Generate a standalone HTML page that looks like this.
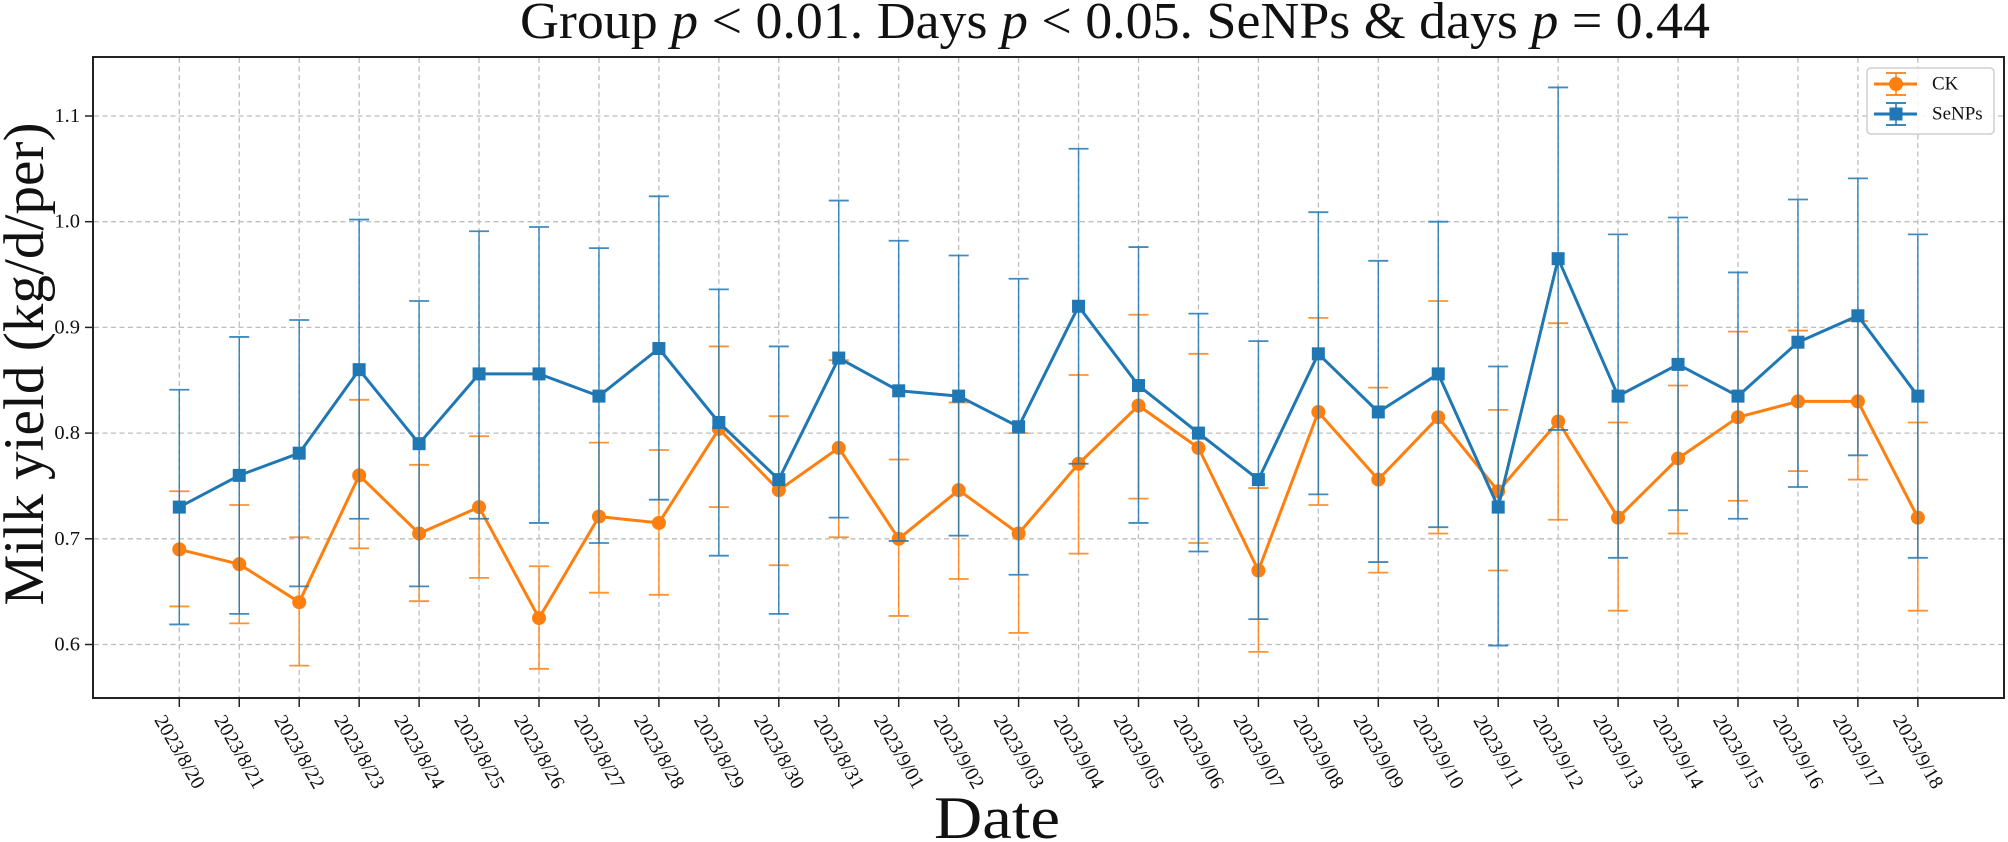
<!DOCTYPE html>
<html>
<head>
<meta charset="utf-8">
<style>
html,body{margin:0;padding:0;background:#fff;}
svg{display:block;}
text{font-family:"Liberation Serif","Times New Roman",serif;fill:#111;}
</style>
</head>
<body>
<svg id="chart" width="2008" height="842" viewBox="0 0 2008 842" xmlns="http://www.w3.org/2000/svg">
<rect x="0" y="0" width="2008" height="842" fill="#fff"/>
<g id="grid" stroke="#bdbdbd" stroke-width="1.3" stroke-dasharray="5,3.5" fill="none"></g>
<g id="ck-err" stroke="#ff7f0e" stroke-width="1.5" fill="none" opacity="0.85"></g>
<g id="ck-line"></g>
<g id="se-err" stroke="#1f77b4" stroke-width="1.5" fill="none" opacity="0.85"></g>
<g id="se-line"></g>
<rect x="93" y="57" width="1911" height="641" fill="none" stroke="#222" stroke-width="2"/>
<g id="ticks" stroke="#222" stroke-width="1.5"></g>
<g id="ylabels" font-size="20.5"></g>
<g id="xlabels" font-size="20"></g>

<!-- Title -->
<text x="520" y="38" font-size="52" textLength="1190" lengthAdjust="spacingAndGlyphs">Group <tspan font-style="italic">p</tspan> &lt; 0.01. Days <tspan font-style="italic">p</tspan> &lt; 0.05. SeNPs &amp; days <tspan font-style="italic">p</tspan> = 0.44</text>

<!-- Axis labels -->
<text transform="translate(43,364) rotate(-90)" text-anchor="middle" font-size="57" textLength="483" lengthAdjust="spacingAndGlyphs">Milk yield (kg/d/per)</text>
<text x="934" y="838" font-size="60" textLength="126" lengthAdjust="spacingAndGlyphs">Date</text>

<!-- Legend -->
<rect x="1867" y="68" width="127" height="66" rx="4" ry="4" fill="#fff" fill-opacity="0.85" stroke="#cfcfcf" stroke-width="1.5"/>
<g stroke="#ff7f0e">
  <line x1="1874" y1="84" x2="1917" y2="84" stroke-width="3"/>
  <line x1="1896" y1="73" x2="1896" y2="95" stroke-width="1.5"/>
  <line x1="1886" y1="73" x2="1906" y2="73" stroke-width="1.8"/>
  <line x1="1886" y1="95" x2="1906" y2="95" stroke-width="1.8"/>
  <circle cx="1896" cy="84" r="7" fill="#ff7f0e" stroke="none"/>
</g>
<g stroke="#1f77b4">
  <line x1="1874" y1="114" x2="1917" y2="114" stroke-width="3"/>
  <line x1="1896" y1="103" x2="1896" y2="125" stroke-width="1.5"/>
  <line x1="1886" y1="103" x2="1906" y2="103" stroke-width="1.8"/>
  <line x1="1886" y1="125" x2="1906" y2="125" stroke-width="1.8"/>
  <rect x="1889.5" y="107.5" width="13" height="13" fill="#1f77b4" stroke="none"/>
</g>
<text x="1932" y="84" font-size="19" dominant-baseline="central">CK</text>
<text x="1932" y="114" font-size="19" dominant-baseline="central">SeNPs</text>
</svg>

<script>
(function(){
var NS="http://www.w3.org/2000/svg";
function el(tag,attrs,parent,txt){var e=document.createElementNS(NS,tag);for(var k in attrs)e.setAttribute(k,attrs[k]);if(txt!==undefined)e.textContent=txt;parent.appendChild(e);return e;}
function X(i){return 179.3+59.95*i;}
function Y(v){return 116+(1.1-v)*1057;}
var labels=["2023/8/20","2023/8/21","2023/8/22","2023/8/23","2023/8/24","2023/8/25","2023/8/26","2023/8/27","2023/8/28","2023/8/29","2023/8/30","2023/8/31","2023/9/01","2023/9/02","2023/9/03","2023/9/04","2023/9/05","2023/9/06","2023/9/07","2023/9/08","2023/9/09","2023/9/10","2023/9/11","2023/9/12","2023/9/13","2023/9/14","2023/9/15","2023/9/16","2023/9/17","2023/9/18"];
var se=[[0.730,0.841,0.619],[0.760,0.891,0.629],[0.781,0.907,0.655],[0.860,1.002,0.719],[0.790,0.925,0.655],[0.856,0.991,0.719],[0.856,0.995,0.715],[0.835,0.975,0.696],[0.880,1.024,0.737],[0.810,0.936,0.684],[0.756,0.882,0.629],[0.871,1.020,0.720],[0.840,0.982,0.698],[0.835,0.968,0.703],[0.806,0.946,0.666],[0.920,1.069,0.771],[0.845,0.976,0.715],[0.800,0.913,0.688],[0.756,0.887,0.624],[0.875,1.009,0.742],[0.820,0.963,0.678],[0.856,1.000,0.711],[0.730,0.863,0.599],[0.965,1.127,0.803],[0.835,0.988,0.682],[0.865,1.004,0.727],[0.835,0.952,0.719],[0.886,1.021,0.749],[0.911,1.041,0.779],[0.835,0.988,0.682]];
var ck=[[0.690,0.745,0.636],[0.676,0.732,0.620],[0.640,0.7015,0.580],[0.760,0.8315,0.691],[0.705,0.770,0.641],[0.730,0.797,0.663],[0.625,0.674,0.577],[0.721,0.791,0.649],[0.715,0.784,0.647],[0.804,0.882,0.730],[0.746,0.816,0.675],[0.786,0.869,0.7015],[0.700,0.775,0.627],[0.746,0.829,0.662],[0.705,0.800,0.611],[0.771,0.855,0.686],[0.826,0.912,0.738],[0.786,0.875,0.696],[0.670,0.748,0.593],[0.820,0.909,0.732],[0.756,0.843,0.668],[0.815,0.925,0.705],[0.745,0.822,0.670],[0.811,0.904,0.718],[0.720,0.810,0.632],[0.776,0.845,0.705],[0.815,0.896,0.736],[0.830,0.897,0.764],[0.830,0.906,0.756],[0.720,0.810,0.632]];
var grid=document.getElementById("grid"),ticks=document.getElementById("ticks");
var yl=document.getElementById("ylabels"),xl=document.getElementById("xlabels");
var yt=[0.6,0.7,0.8,0.9,1.0,1.1];
yt.forEach(function(v){var y=Y(v);
 el("line",{x1:94,y1:y,x2:2003,y2:y},grid);
 el("line",{x1:85,y1:y,x2:93,y2:y},ticks);
 el("text",{x:80,y:y,"text-anchor":"end","dominant-baseline":"central"},yl,v.toFixed(1));
});
for(var i=0;i<30;i++){var x=X(i);
 el("line",{x1:x,y1:58,x2:x,y2:697},grid);
 el("line",{x1:x,y1:698,x2:x,y2:707},ticks);
 el("text",{x:0,y:0,"text-anchor":"middle","dominant-baseline":"central",transform:"translate("+x+",752) rotate(60)"},xl,labels[i]);
}
function errs(data,gid){var g=document.getElementById(gid);
 data.forEach(function(d,i){var x=X(i),yu=Y(d[1]),yd=Y(d[2]);
  el("line",{x1:x,y1:yu,x2:x,y2:yd},g);
  el("line",{x1:x-10,y1:yu,x2:x+10,y2:yu,"stroke-width":1.8},g);
  el("line",{x1:x-10,y1:yd,x2:x+10,y2:yd,"stroke-width":1.8},g);
 });}
function line(data,gid,color,sq){var g=document.getElementById(gid);
 var pts=data.map(function(d,i){return X(i).toFixed(1)+","+Y(d[0]).toFixed(1);}).join(" ");
 el("polyline",{points:pts,fill:"none",stroke:color,"stroke-width":3,"stroke-linejoin":"round"},g);
 data.forEach(function(d,i){var x=X(i),y=Y(d[0]);
  if(sq)el("rect",{x:x-6.5,y:y-6.5,width:13,height:13,fill:color},g);
  else el("circle",{cx:x,cy:y,r:7,fill:color},g);
 });}
errs(ck,"ck-err");line(ck,"ck-line","#ff7f0e",false);
errs(se,"se-err");line(se,"se-line","#1f77b4",true);
})();
</script>
</body>
</html>
